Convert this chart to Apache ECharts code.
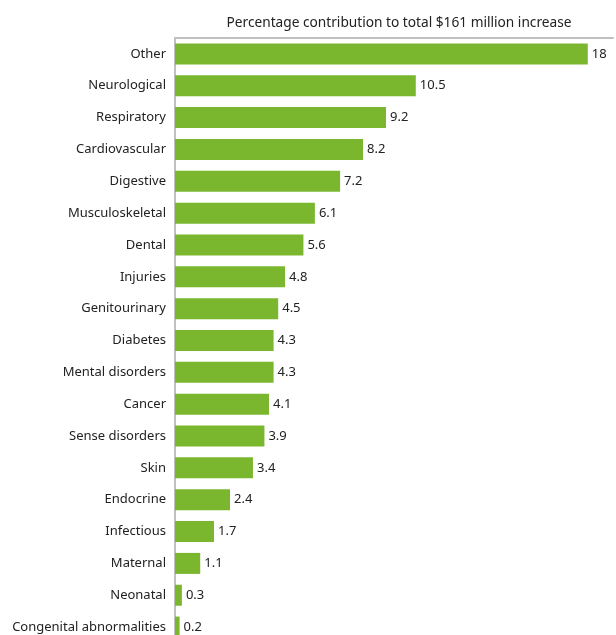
<!DOCTYPE html>
<html><head><meta charset="utf-8">
<script src="https://cdn.jsdelivr.net/npm/echarts@6/dist/echarts.min.js"></script>
<style>html,body{margin:0;padding:0;background:#fff}#c{width:616px;height:635px}</style>
</head><body><div id="c"></div>
<script>
const categories = ["Other","Neurological","Respiratory","Cardiovascular","Digestive","Musculoskeletal","Dental","Injuries","Genitourinary","Diabetes","Mental disorders","Cancer","Sense disorders","Skin","Endocrine","Infectious","Maternal","Neonatal","Congenital abnormalities"];
const values = [18,10.5,9.2,8.2,7.2,6.1,5.6,4.8,4.5,4.3,4.3,4.1,3.9,3.4,2.4,1.7,1.1,0.3,0.2];
const titleText = "Percentage contribution to total $161 million increase";
const FONT = "Noto Sans";
const chart = echarts.init(document.getElementById('c'), null, {renderer:'canvas'});
chart.setOption({
  animation:false,
  title:{text:titleText,left:394,textAlign:'center',top:11,textStyle:{fontFamily:FONT,fontSize:13.7,fontWeight:'normal',color:'#222'}},
  grid:{left:175,right:3,top:38,bottom:-8,containLabel:false,outerBoundsMode:'none'},
  xAxis:{type:'value',position:'top',min:0,max:19.1,axisLine:{show:true,lineStyle:{color:'#c0c0c0',width:2}},axisTick:{show:false},axisLabel:{show:false},splitLine:{show:false}},
  yAxis:{type:'category',inverse:true,data:categories,axisLine:{show:true,lineStyle:{color:'#c0c0c0',width:2}},axisTick:{show:false},
    axisLabel:{margin:9,fontFamily:FONT,fontSize:13,color:'#222'}},
  series:[{type:'bar',data:values,barWidth:21,itemStyle:{color:'#7ab72f'},
    label:{show:true,position:'right',distance:4,fontFamily:FONT,fontSize:13,color:'#222'}}]
});
</script></body></html>
